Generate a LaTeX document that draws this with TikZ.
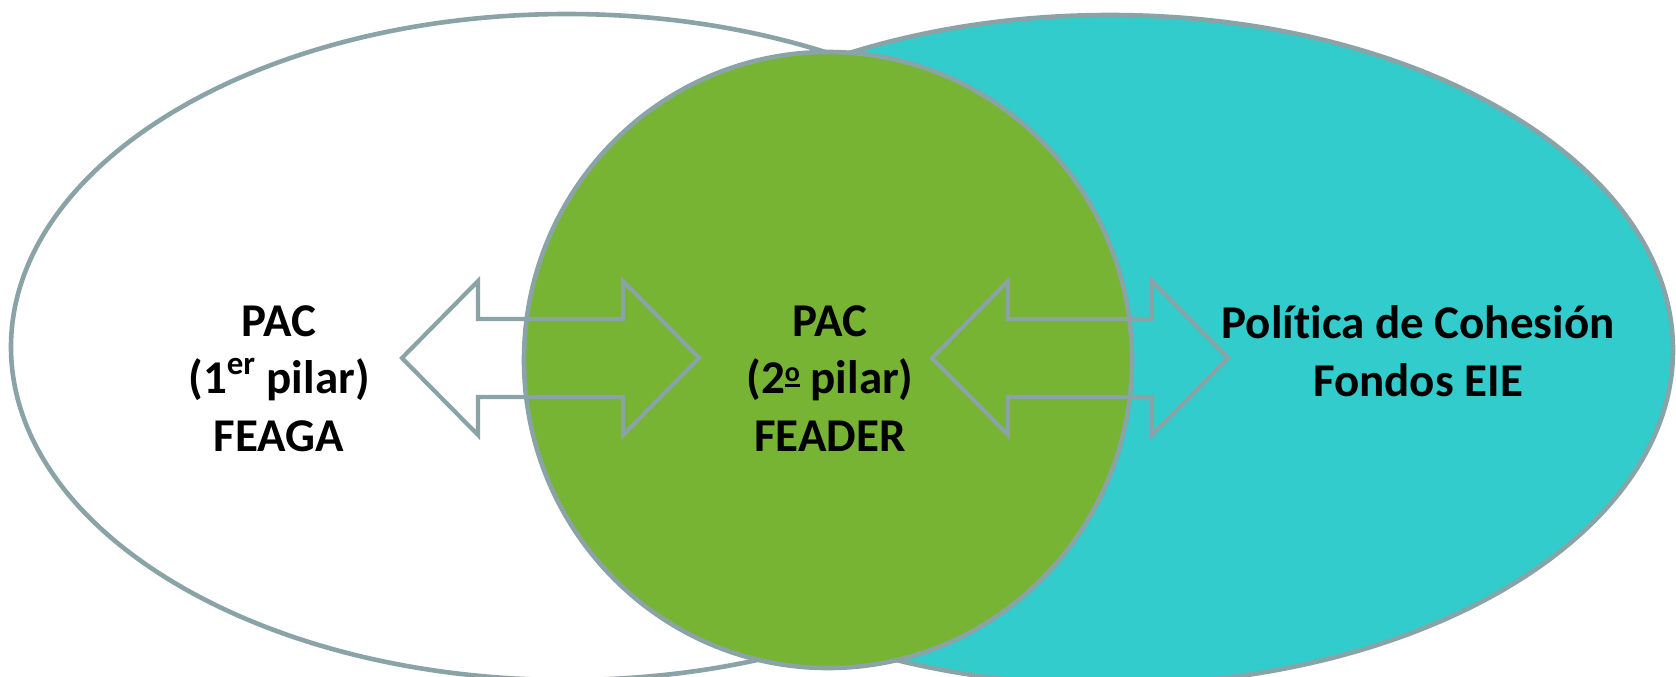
\documentclass[tikz,border=0pt]{standalone}
\usepackage{fontspec}
\setmainfont[Ligatures=CommonOff]{Carlito}
\definecolor{bordergray}{HTML}{8AA3A7}
\definecolor{leafgreen}{HTML}{77B433}
\definecolor{cyanfill}{HTML}{33CCCC}
\newcommand{\myord}{{\fontsize{14}{14}\selectfont\setbox0\hbox{o}\rlap{\rule[3pt]{\wd0}{1.3pt}}\raisebox{6pt}{\box0}}}
\begin{document}
\begin{tikzpicture}[x=0.5pt,y=-0.5pt,
  shapeline/.style={draw=bordergray,line width=2.3pt},
  dblarrow/.style={draw=bordergray,line width=2.1pt,line join=miter},
  lbl/.style={anchor=base,inner sep=0pt,font=\fontsize{23.5}{28}\selectfont\bfseries,text=black}]
\useasboundingbox (0,0) rectangle (1676,676);
\clip (0,0) rectangle (1676,676);
\fill[white] (0,0) rectangle (1676,676);
% left ellipse
\path[shapeline,fill=white] (567,347) ellipse [x radius=556, y radius=333];
% right ellipse
\path[shapeline,fill=cyanfill] (1110,350) ellipse [x radius=563, y radius=335];
% circle
\path[shapeline,fill=leafgreen] (828,360) ellipse [x radius=304, y radius=308];
% left double arrow
\draw[dblarrow] (402,358) -- (478,281) -- (478,319) -- (623,319) -- (623,281)
  -- (699,358) -- (623,435) -- (623,397) -- (478,397) -- (478,435) -- cycle;
% right double arrow
\draw[dblarrow] (932,358) -- (1008,281) -- (1008,319) -- (1152,319) -- (1152,281)
  -- (1228,358) -- (1152,435) -- (1152,397) -- (1008,397) -- (1008,435) -- cycle;
% texts
\node[lbl] (l1) at (279,336) {PAC};
\node[lbl] (l2) at (279,393) {(1\textsuperscript{er} pilar)};
\node[lbl] (l3) at (279,451) {FEAGA};
\node[lbl] (m1) at (830,336) {PAC};
\node[lbl] (m2) at (830,393) {(2\myord{} pilar)};
\node[lbl] (m3) at (830,451) {FEADER};
\node[lbl] (r1) at (1418,338) {Política de Cohesión};
\node[lbl] (r2) at (1418,396) {Fondos EIE};
\end{tikzpicture}
\end{document}
